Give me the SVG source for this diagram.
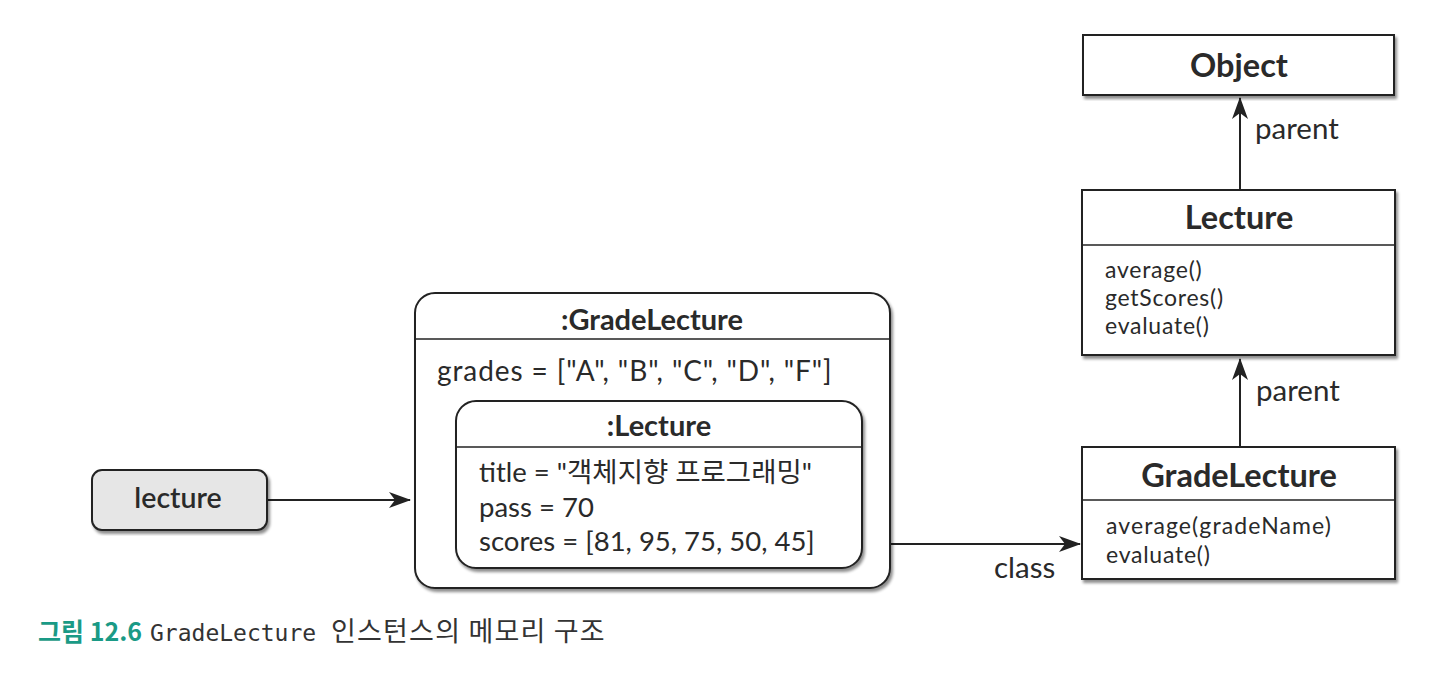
<svg xmlns="http://www.w3.org/2000/svg" width="1433" height="678" viewBox="0 0 1433 678">
<defs>
<filter id="sh" x="-5%" y="-5%" width="112%" height="115%">
<feGaussianBlur in="SourceAlpha" stdDeviation="1.5"/>
<feOffset dx="1.5" dy="2.5" result="b"/>
<feComponentTransfer><feFuncA type="linear" slope="0.45"/></feComponentTransfer>
<feMerge><feMergeNode/><feMergeNode in="SourceGraphic"/></feMerge>
</filter>
<marker id="ah" viewBox="0 0 22 16" refX="21" refY="8" markerWidth="22" markerHeight="16" markerUnits="userSpaceOnUse" orient="auto">
<path d="M0,0 L22,8 L0,16 L6,8 Z" fill="#222"/>
</marker>
</defs>
<style>
text{font-family:Lato,"Noto Sans CJK KR",sans-serif;fill:#2a2a2a;}
.box{fill:#fff;stroke:#222;stroke-width:2;}
.div{stroke:#222;stroke-width:1.5;fill:none;}
.title{font-weight:700;font-size:32.5px;text-anchor:middle;}
.otitle{font-weight:700;font-size:29px;text-anchor:middle;}
.attr{font-size:27.5px;}
.meth{font-size:23px;letter-spacing:0.75px;}
.lbl{font-size:29.5px;}
.conn{stroke:#222;stroke-width:2;fill:none;marker-end:url(#ah);}
.cap{font-family:"Noto Sans CJK KR",sans-serif;font-size:25px;fill:#333;}
.mono{font-family:"DejaVu Sans Mono","Liberation Mono",monospace;font-size:23px;}
</style>
<rect width="1433" height="678" fill="#fff"/>

<g id="connectors">
<line class="conn" x1="267" y1="500" x2="410" y2="500"/>
<line class="conn" x1="891" y1="544" x2="1080" y2="544"/>
<line class="conn" x1="1240" y1="446" x2="1240" y2="359"/>
<line class="conn" x1="1240" y1="189" x2="1240" y2="98"/>
<text class="lbl" x="994" y="578">class</text>
<text class="lbl" x="1256" y="401">parent</text>
<text class="lbl" x="1255" y="139">parent</text>
</g>

<g id="lecture-ref">
<rect x="92" y="470" width="175" height="60" rx="10" fill="#e6e6e6" stroke="#222" stroke-width="2" filter="url(#sh)"/>
<text x="178" y="508" font-size="28.5" font-weight="600" text-anchor="middle">lecture</text>
</g>

<g id="gradelecture-instance">
<rect class="box" x="415" y="293" width="475" height="295" rx="20" filter="url(#sh)"/>
<line class="div" x1="415" y1="339" x2="890" y2="339"/>
<text class="otitle" x="652" y="330">:GradeLecture</text>
<text class="attr" x="437" y="381" style="font-size:28px;letter-spacing:0.9px">grades = ["A", "B", "C", "D", "F"]</text>
</g>

<g id="lecture-instance">
<rect class="box" x="456" y="401" width="406" height="167" rx="20" filter="url(#sh)"/>
<line class="div" x1="456" y1="447" x2="862" y2="447"/>
<text class="otitle" x="659" y="436">:Lecture</text>
<text class="attr" x="479" y="482">title = "객체지향 프로그래밍"<tspan x="479" dy="35">pass = 70</tspan><tspan x="479" dy="34">scores = [81, 95, 75, 50, 45]</tspan></text>
</g>

<g id="object-class">
<rect class="box" x="1083" y="35" width="311" height="60" filter="url(#sh)"/>
<text class="title" x="1239" y="77">Object</text>
</g>

<g id="lecture-class">
<rect class="box" x="1082" y="190" width="313" height="165" filter="url(#sh)"/>
<line class="div" x1="1082" y1="245" x2="1395" y2="245"/>
<text class="title" x="1239" y="229">Lecture</text>
<text class="meth" x="1105" y="278">average()<tspan x="1105" dy="28">getScores()</tspan><tspan x="1105" dy="28">evaluate()</tspan></text>
</g>

<g id="gradelecture-class">
<rect class="box" x="1082" y="447" width="313" height="132" filter="url(#sh)"/>
<line class="div" x1="1082" y1="500" x2="1395" y2="500"/>
<text class="title" x="1239" y="487">GradeLecture</text>
<text class="meth" x="1106" y="534" style="letter-spacing:1.1px">average(gradeName)<tspan x="1106" dy="29" style="letter-spacing:0.75px">evaluate()</tspan></text>
</g>

<g id="caption">
<text class="cap" x="38" y="641" style="font-weight:700;fill:#1a9a86">그림 12.6</text>
<text class="cap mono" x="150" y="641">GradeLecture</text>
<text class="cap" x="331" y="641" style="font-size:27px;letter-spacing:1.2px">인스턴스의 메모리 구조</text>
</g>
</svg>
